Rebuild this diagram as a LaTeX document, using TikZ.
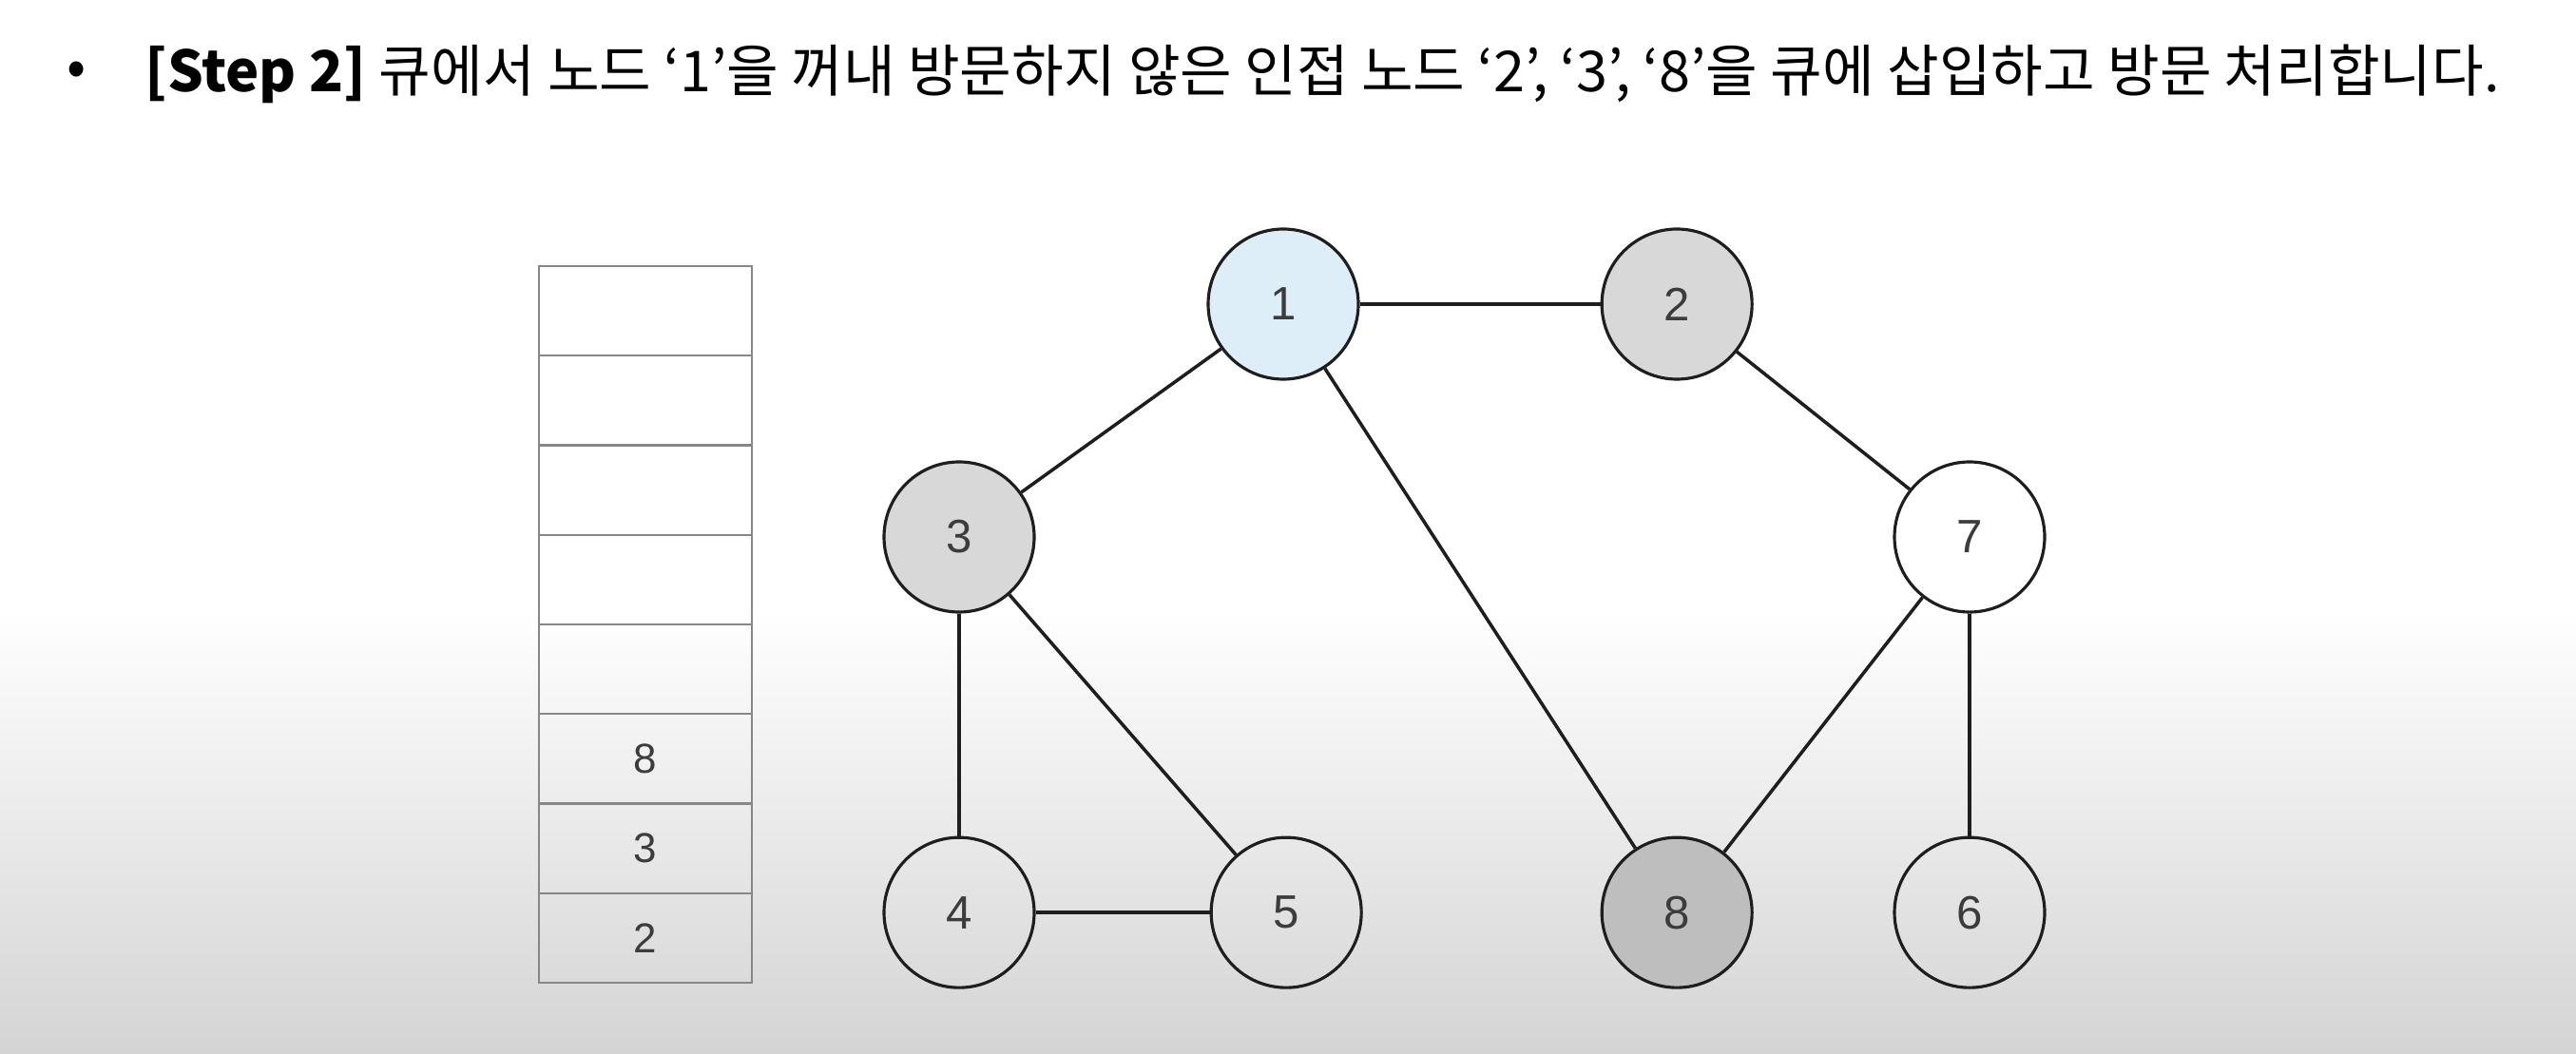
\documentclass[tikz,border=0pt]{standalone}
\usepackage{xcolor}
\usepackage{tikz}
\usepackage{fontspec}
\usetikzlibrary{positioning, backgrounds}
\newfontfamily\krfont{Noto Sans CJK KR}
\newfontfamily\numfont{Liberation Sans}
\definecolor{edgeline}{RGB}{30, 30, 30}
\definecolor{cellline}{RGB}{135, 135, 135}
\definecolor{numtext}{RGB}{60, 60, 60}
\definecolor{currentbg}{RGB}{222, 238, 248}
\definecolor{visitedbg}{RGB}{216, 216, 216}
\definecolor{newbg}{RGB}{190, 190, 190}
\definecolor{floorbg}{RGB}{212, 212, 212}
\tikzset{
    vertex/.style={circle, draw=edgeline, line width=0.9pt, minimum size=1.58cm, inner sep=0pt, font=\numfont\fontsize{14}{14}\selectfont, text=numtext},
    current/.style={vertex, fill=currentbg},
    visited/.style={vertex, fill=visitedbg},
    newest/.style={vertex, fill=newbg},
    cell/.style={rectangle, draw=cellline, line width=0.6pt, minimum width=2.24cm, minimum height=0.9425cm, inner sep=0pt, font=\numfont\fontsize{12.5}{12.5}\selectfont, text=numtext},
    edge/.style={draw=edgeline, line width=1pt},
    heading/.style={font=\krfont\fontsize{16.9}{16.9}\selectfont, anchor=west, inner sep=0pt}
}
\begin{document}
\begin{tikzpicture}

    % Backdrop
    \fill[white] (0,0) rectangle (27.10,11.08);
    \shade[top color=white, bottom color=floorbg] (0,0) rectangle (27.10,4.68);
    \useasboundingbox (0,0) rectangle (27.10,11.08);

    % Heading
    \node (dot)   [heading] at (0.70,10.30) {\textbullet};
    \node (title) [heading] at (1.52,10.30) {\textbf{[Step 2]} 큐에서 노드 ‘1’을 꺼내 방문하지 않은 인접 노드 ‘2’, ‘3’, ‘8’을 큐에 삽입하고 방문 처리합니다.};

    % Queue (bottom to top)
    \foreach \lbl [count=\i] in {2,3,8,{},{},{},{},{}} {
        \node (q\i) [cell] at (6.79,{0.74+0.9425*(\i-0.5)}) {\lbl};
    }

    % Top row
    \node (n1) [current] at (13.50,7.88) {1};
    \node (n2) [visited, right=2.53cm of n1] {2};

    % Middle row
    \node (n3) [visited] at (10.09,5.43) {3};
    \node (n7) [vertex] at (20.72,5.43) {7};

    % Bottom row
    \node (n4) [vertex, below=2.34cm of n3] {4};
    \node (n5) [vertex, right=1.83cm of n4] {5};
    \node (n8) [newest, below=4.79cm of n2] {8};
    \node (n6) [vertex, below=2.34cm of n7] {6};

    % Edges
    \draw [edge] (n1) -- (n2);
    \draw [edge] (n1) -- (n3);
    \draw [edge] (n1) -- (n8);
    \draw [edge] (n2) -- (n7);
    \draw [edge] (n3) -- (n4);
    \draw [edge] (n3) -- (n5);
    \draw [edge] (n4) -- (n5);
    \draw [edge] (n7) -- (n8);
    \draw [edge] (n7) -- (n6);

\end{tikzpicture}
\end{document}
